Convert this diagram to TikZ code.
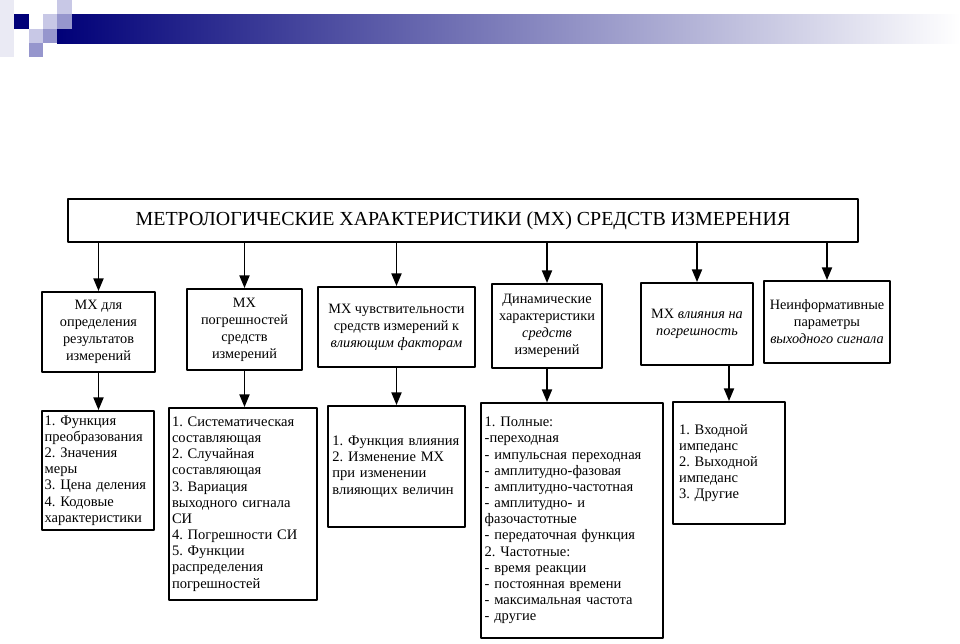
\documentclass[tikz,border=0pt]{standalone}
\usepackage{fontspec}
\setmainfont{Liberation Serif}
\usetikzlibrary{arrows.meta}
\definecolor{navy}{RGB}{0,0,120}
\definecolor{lav}{RGB}{200,200,230}
\definecolor{midlav}{RGB}{150,150,205}
\definecolor{pale}{RGB}{234,234,244}
\frenchspacing
\begin{document}
\begin{tikzpicture}[x=0.03cm, y=-0.03cm, line width=1.6pt, line cap=round, line join=round,
  box/.style={draw, inner sep=0pt, align=center, font=\fontsize{12.2}{14.5}\selectfont},
  list/.style={draw, inner sep=0pt, align=left, font=\fontsize{12.4}{13.8}\selectfont},
  arr/.style={-{Triangle[length=3.8mm,width=3mm]}}]
  \useasboundingbox (0,0) rectangle (960,643);
  % полоса сверху
  \shade[left color=navy, right color=white] (57,14) rectangle (960,43);
  \fill[pale] (0,0) rectangle (14,57);
  \fill[navy] (14,14) rectangle (29,29);
  \fill[lav] (29,29) rectangle (43,43);
  \fill[midlav] (29,43) rectangle (43,57);
  \fill[lav] (43,14) rectangle (57,29);
  \fill[midlav] (43,29) rectangle (57,43);
  \fill[lav] (57,0) rectangle (72,14);
  \fill[midlav] (57,14) rectangle (72,29);
  % заголовок
  \node[draw, inner sep=0pt, minimum width=23.7cm, minimum height=1.29cm,
    font=\fontsize{17}{19}\selectfont] (mx) at (463,220.5)
    {МЕТРОЛОГИЧЕСКИЕ ХАРАКТЕРИСТИКИ (МХ) СРЕДСТВ ИЗМЕРЕНИЯ};
  % первый ряд
  \node[box, minimum width=3.39cm, minimum height=2.4cm] (opr) at (98.5,332)
    {МХ для\\ определения\\ результатов\\ измерений};
  \node[box, minimum width=3.45cm, minimum height=2.43cm] (pogr) at (244.5,329.5)
    {МХ\\ погрешностей\\ средств\\ измерений};
  \node[box, minimum width=4.71cm, minimum height=2.4cm] (chuv) at (396.5,327)
    {МХ чувствительности\\ средств измерений к\\ \textit{влияющим факторам}};
  \node[box, minimum width=3.3cm, minimum height=2.52cm] (dinam) at (547,326)
    {Динамические\\ характеристики\\ \textit{средств}\\ измерений};
  \node[box, minimum width=3.36cm, minimum height=2.46cm] (vliyan) at (697,324)
    {МХ \textit{влияния на}\\ \textit{погрешность}};
  \node[box, minimum width=3.78cm, minimum height=2.46cm] (neinf) at (827,322)
    {Неинформативные\\ параметры\\ \textit{выходного сигнала}};
  % второй ряд
  \node[list, minimum width=3.36cm, minimum height=3.57cm, text width=3.2cm] (opr2) at (98,470.5)
    {1. Функция\\ преобразования\\ 2. Значения\\ меры\\ 3. Цена деления\\ 4. Кодовые\\ характеристики};
  \node[list, minimum width=4.44cm, minimum height=5.76cm, text width=4.26cm] (pogr2) at (243,504)
    {1. Систематическая\\ составляющая\\ 2. Случайная\\ составляющая\\ 3. Вариация\\ выходного сигнала\\ СИ\\ 4. Погрешности СИ\\ 5. Функции\\ распределения\\ погрешностей};
  \node[list, minimum width=4.11cm, minimum height=3.63cm, text width=3.85cm] (chuv2) at (396.5,466.5)
    {1. Функция влияния\\ 2. Изменение МХ\\ при изменении\\ влияющих величин};
  \node[list, minimum width=5.46cm, minimum height=7.05cm, text width=5.24cm] (dinam2) at (572,520.5)
    {1. Полные:\\ -переходная\\ - импульсная переходная\\ - амплитудно-фазовая\\ - амплитудно-частотная\\ - амплитудно- и\\ фазочастотные\\ - передаточная функция\\ 2. Частотные:\\ - время реакции\\ - постоянная времени\\ - максимальная частота\\ - другие};
  \node[list, minimum width=3.36cm, minimum height=3.66cm, text width=3.0cm] (vliyan2) at (729,463)
    {1. Входной\\ импеданс\\ 2. Выходной\\ импеданс\\ 3. Другие};
  % стрелки от заголовка
  \foreach \n in {opr,pogr,chuv,dinam,vliyan,neinf}
    \draw[arr] (\n.north |- mx.south) -- (\n.north);
  % стрелки ко второму ряду
  \draw[arr] (opr.south) -- (opr.south |- opr2.north);
  \draw[arr] (pogr.south) -- (pogr.south |- pogr2.north);
  \draw[arr] (chuv.south) -- (chuv.south |- chuv2.north);
  \draw[arr] (dinam.south) -- (dinam.south |- dinam2.north);
  \draw[arr] (vliyan2.north |- vliyan.south) -- (vliyan2.north);
\end{tikzpicture}
\end{document}
